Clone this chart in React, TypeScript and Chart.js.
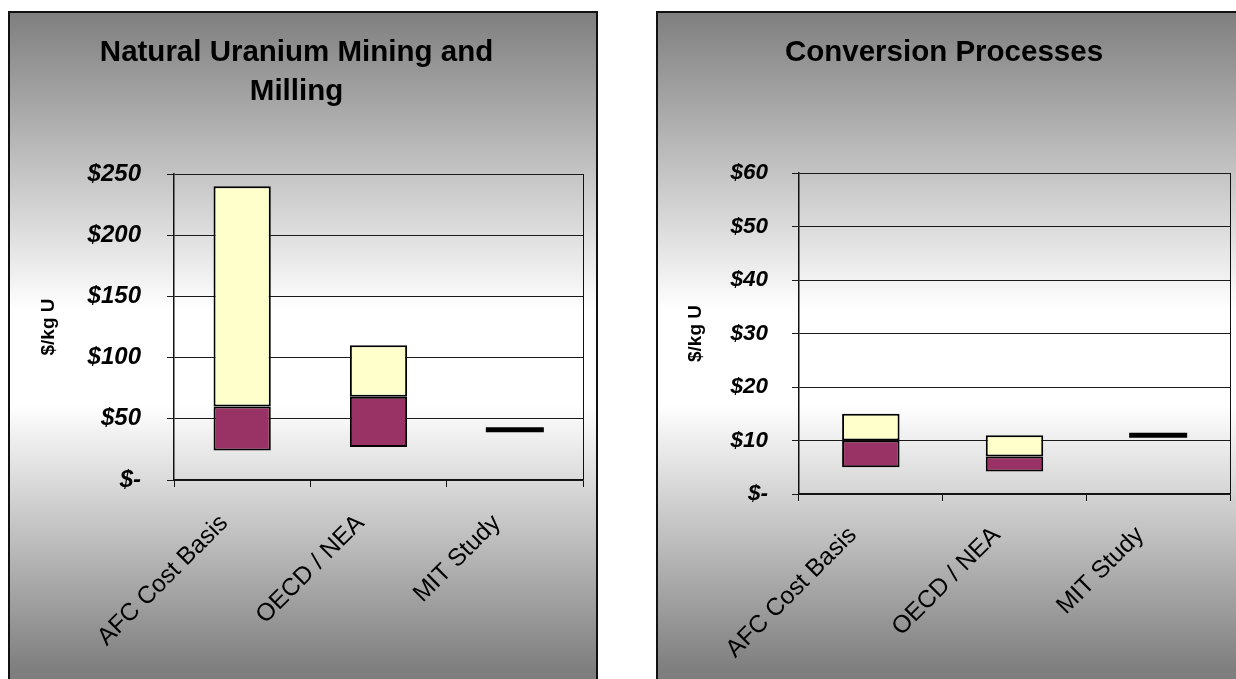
import { useEffect, useRef } from 'react';
import { Chart, registerables } from 'chart.js';

Chart.register(...registerables);

const categories = ['AFC Cost Basis', 'OECD / NEA', 'MIT Study'];

// Natural uranium mining and milling, $/kg U (low / split / high of each range)
const miningLow = [24, 27, null];
const miningMid = [60, 68, null];
const miningHigh = [240, 110, null];
const miningSingle = [null, null, 41];
const miningTicks = [0, 50, 100, 150, 200, 250];

// Conversion processes, $/kg U
const conversionLow = [5, 4.2, null];
const conversionMid = [10, 7, null];
const conversionHigh = [15, 11, null];
const conversionSingle = [null, null, 11];
const conversionTicks = [0, 10, 20, 30, 40, 50, 60];

const FONT = "'Liberation Sans', Arial, Helvetica, sans-serif";
const CANVAS_W = 586;
const CANVAS_H = 676;

type Panel = {
  title: string[];
  low: (number | null)[];
  mid: (number | null)[];
  high: (number | null)[];
  single: (number | null)[];
  ticks: number[];
  // layout
  titlePadTop: number;
  plotLeft: number;
  plotTop: number;
  plotRight: number;
  plotBottom: number;
  yTickSize: number;
  yTickPad: number;
  yTitlePad: number;
  xTickPad: number;
  barPct: number;
};

const ranges = (a: (number | null)[], b: (number | null)[]) =>
  a.map((v, i) => (v == null || b[i] == null ? null : [v, b[i] as number]));

// Right edge line of the plot area
const plotFrame = {
  id: 'plotFrame',
  afterDatasetsDraw(chart: Chart) {
    const { ctx, chartArea } = chart;
    ctx.save();
    ctx.strokeStyle = '#111';
    ctx.lineWidth = 1;
    const x = Math.round(chartArea.right) + 0.5;
    ctx.beginPath();
    ctx.moveTo(x, chartArea.top);
    ctx.lineTo(x, chartArea.bottom);
    ctx.stroke();
    ctx.restore();
  },
};

function CostChart({ p }: { p: Panel }) {
  const ref = useRef<HTMLCanvasElement | null>(null);

  useEffect(() => {
    if (!ref.current) return;
    const titleSize = 29.5;
    const titleLine = titleSize * 1.32;
    const titleBlock = p.title.length * titleLine + p.titlePadTop;
    const chart = new Chart(ref.current, {
      type: 'bar',
      data: {
        labels: categories,
        datasets: [
          {
            type: 'bar',
            label: 'Low',
            data: ranges(p.low, p.mid) as any,
            backgroundColor: '#993366',
            borderColor: '#000',
            borderWidth: 2,
            borderSkipped: false,
            grouped: false,
            barPercentage: p.barPct,
            categoryPercentage: 1,
          },
          {
            type: 'bar',
            label: 'High',
            data: ranges(p.mid, p.high) as any,
            backgroundColor: '#FFFFCC',
            borderColor: '#000',
            borderWidth: 2,
            borderSkipped: false,
            grouped: false,
            barPercentage: p.barPct,
            categoryPercentage: 1,
          },
          {
            type: 'line',
            label: 'Estimate',
            data: p.single as any,
            showLine: false,
            pointStyle: 'line',
            pointRadius: 29,
            pointHoverRadius: 29,
            pointBorderWidth: 5,
            borderColor: '#000',
            backgroundColor: '#000',
          },
        ],
      },
      options: {
        responsive: false,
        animation: false,
        events: [],
        layout: {
          autoPadding: false,
          padding: { left: 0, top: 0, right: CANVAS_W - p.plotRight, bottom: 0 },
        },
        plugins: {
          legend: { display: false },
          tooltip: { enabled: false },
          title: {
            display: true,
            text: p.title,
            color: '#000',
            font: { family: FONT, size: titleSize, weight: 'bold', lineHeight: 1.32 },
            padding: { top: p.titlePadTop, bottom: p.plotTop - titleBlock },
          },
        },
        scales: {
          x: {
            offset: true,
            grid: {
              display: true,
              offset: true,
              drawOnChartArea: false,
              drawTicks: true,
              tickLength: 7,
              color: '#111',
              lineWidth: 1,
            },
            border: { display: true, color: '#111', width: 1.5 },
            ticks: {
              color: '#000',
              font: { family: FONT, size: 24.5 },
              minRotation: 45,
              maxRotation: 45,
              autoSkip: false,
              padding: p.xTickPad,
              labelOffset: -18,
            },
            afterFit: (s: any) => {
              s.height = CANVAS_H - p.plotBottom;
              s.paddingLeft = 0;
              s.paddingRight = 0;
            },
          },
          y: {
            min: p.ticks[0],
            max: p.ticks[p.ticks.length - 1],
            afterBuildTicks: (s: any) => {
              s.ticks = p.ticks.map((v) => ({ value: v }));
            },
            grid: {
              color: '#1a1a1a',
              lineWidth: 1,
              drawTicks: true,
              tickLength: 7,
            },
            border: { display: true, color: '#111', width: 1.5 },
            ticks: {
              color: '#000',
              font: { family: FONT, size: p.yTickSize, style: 'italic', weight: 'bold' },
              padding: p.yTickPad,
              callback: (v: any) => (Number(v) === 0 ? '$-' : '$' + v),
            },
            title: {
              display: true,
              text: '$/kg U',
              color: '#000',
              font: { family: FONT, size: 19, weight: 'bold' },
              padding: { top: p.yTitlePad, bottom: 0 },
            },
            afterFit: (s: any) => {
              s.width = p.plotLeft;
            },
          },
        },
      },
      plugins: [plotFrame],
    });
    return () => chart.destroy();
  }, [p]);

  return (
    <canvas
      ref={ref}
      width={CANVAS_W}
      height={CANVAS_H}
      style={{ position: 'absolute', left: 0, top: 0, display: 'block' }}
    />
  );
}

const miningPanel: Panel = {
  title: ['Natural Uranium Mining and', 'Milling'],
  low: miningLow,
  mid: miningMid,
  high: miningHigh,
  single: miningSingle,
  ticks: miningTicks,
  titlePadTop: 20,
  plotLeft: 164,
  plotTop: 161,
  plotRight: 573,
  plotBottom: 467,
  yTickSize: 24,
  yTickPad: 26,
  yTitlePad: 27,
  xTickPad: 22,
  barPct: 0.42,
};

const conversionPanel: Panel = {
  title: ['Conversion Processes'],
  low: conversionLow,
  mid: conversionMid,
  high: conversionHigh,
  single: conversionSingle,
  ticks: conversionTicks,
  titlePadTop: 20,
  plotLeft: 141,
  plotTop: 160,
  plotRight: 572,
  plotBottom: 481,
  yTickSize: 22.5,
  yTickPad: 24,
  yTitlePad: 26,
  xTickPad: 20,
  barPct: 0.4,
};

const panelStyle = (left: number): React.CSSProperties => ({
  position: 'absolute',
  left,
  top: 11,
  width: 590,
  height: 680,
  boxSizing: 'border-box',
  border: '2px solid #111',
  background:
    'linear-gradient(to bottom, #7f7f7f 0%, #ffffff 44%, #ffffff 58%, #7f7f7f 97%, #7c7c7c 100%)',
});

export default function App() {
  return (
    <div
      style={{
        position: 'fixed',
        left: 0,
        top: 0,
        width: 1236,
        height: 679,
        overflow: 'hidden',
        background: '#fff',
      }}
    >
      <div style={panelStyle(8)}>
        <CostChart p={miningPanel} />
      </div>
      <div style={panelStyle(656)}>
        <CostChart p={conversionPanel} />
      </div>
    </div>
  );
}
